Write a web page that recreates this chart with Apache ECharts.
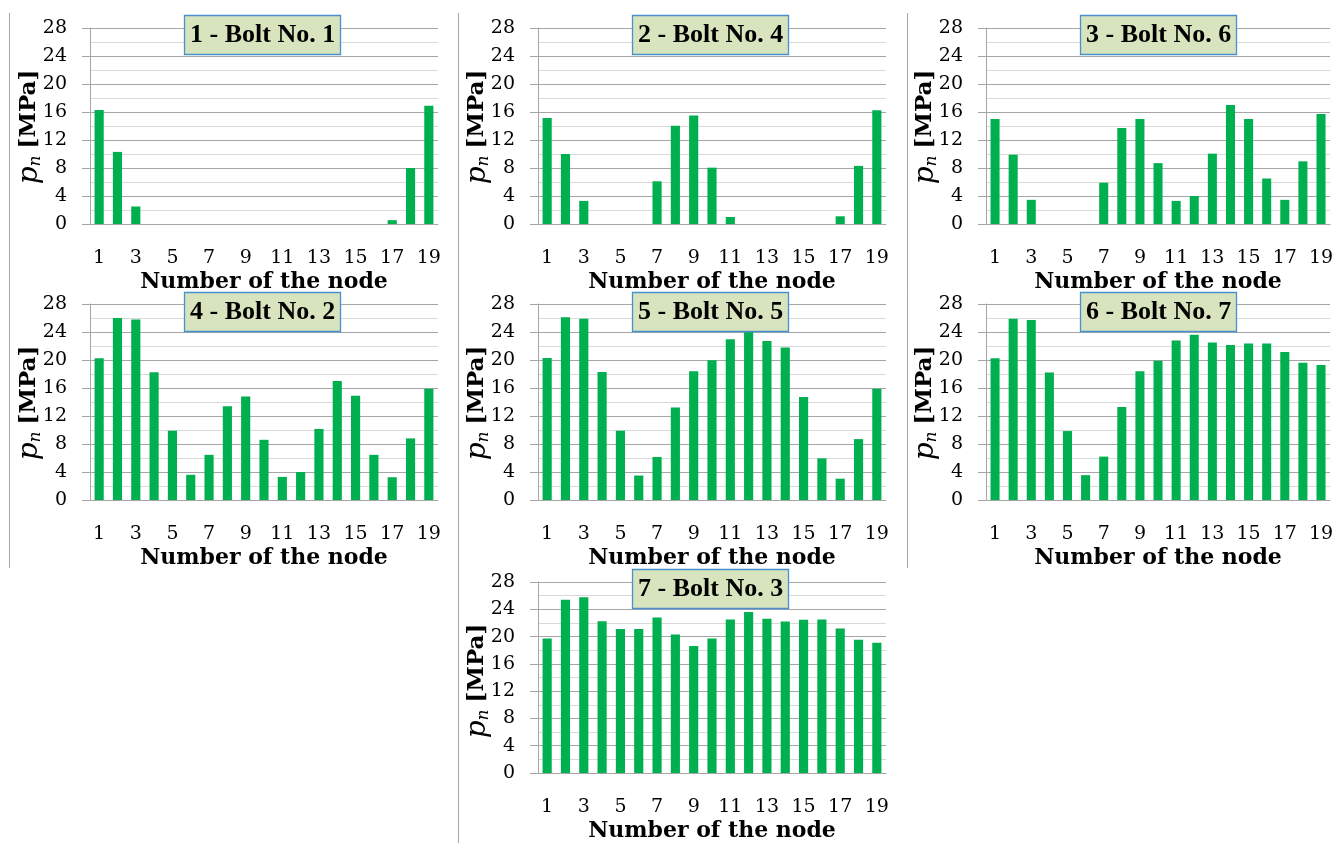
<!DOCTYPE html>
<html>
<head>
<meta charset="utf-8">
<script src="https://cdn.jsdelivr.net/npm/echarts@6/dist/echarts.min.js"></script>
<style>
html,body{margin:0;padding:0;background:#fff;}
#chart{width:1336px;height:843px;}
</style>
</head>
<body>
<div id="chart"></div>
<script>
// ---- data ----
const nodes = ['1','2','3','4','5','6','7','8','9','10','11','12','13','14','15','16','17','18','19'];
const yTicks = [0, 4, 8, 12, 16, 20, 24, 28];
const panelTitles = ['1 - Bolt No. 1', '2 - Bolt No. 4', '3 - Bolt No. 6', '4 - Bolt No. 2', '5 - Bolt No. 5', '6 - Bolt No. 7', '7 - Bolt No. 3'];
const xAxisName = 'Number of the node';
const yNameParts = ['p', 'n', '[MPa]'];
const bolt1 = [16.3, 10.3, 2.5, 0, 0, 0, 0, 0, 0, 0, 0, 0, 0, 0, 0, 0, 0.55, 8.0, 16.9];
const bolt4 = [15.15, 10.0, 3.3, 0, 0, 0, 6.1, 14.05, 15.5, 8.05, 1.0, 0, 0, 0, 0, 0, 1.1, 8.3, 16.25];
const bolt6 = [15.0, 9.9, 3.45, 0, 0, 0, 5.9, 13.7, 15.0, 8.7, 3.3, 4.0, 10.05, 17.0, 15.0, 6.5, 3.45, 8.95, 15.7];
const bolt2 = [20.25, 26.0, 25.8, 18.25, 9.9, 3.6, 6.45, 13.4, 14.8, 8.6, 3.3, 4.0, 10.15, 17.0, 14.9, 6.45, 3.25, 8.8, 15.9];
const bolt5 = [20.3, 26.1, 25.9, 18.3, 9.9, 3.5, 6.15, 13.2, 18.4, 19.95, 22.95, 24.2, 22.7, 21.8, 14.7, 5.95, 3.05, 8.7, 15.9];
const bolt7 = [20.25, 25.9, 25.7, 18.2, 9.85, 3.55, 6.2, 13.3, 18.4, 19.9, 22.8, 23.6, 22.5, 22.15, 22.35, 22.35, 21.15, 19.6, 19.3];
const bolt3 = [19.7, 25.4, 25.75, 22.25, 21.1, 21.1, 22.8, 20.3, 18.6, 19.7, 22.5, 23.6, 22.6, 22.2, 22.45, 22.5, 21.2, 19.55, 19.1];
const panelData = [bolt1, bolt4, bolt6, bolt2, bolt5, bolt7, bolt3];

// ---- layout ----
const colLeft = [90, 538, 986];
const rowTop = [28, 304, 582];
const gridW = 348, gridH = 196;
const panelPos = [[0,0],[1,0],[2,0],[0,1],[1,1],[2,1],[1,2]];
const titleTop = [15, 292, 569];

const GREEN = '#00b050';
const SERIF = "'DejaVu Serif', serif";
const TITLE_FONT = "bold 26px 'Liberation Serif'";
const P_FONT = "italic 28px 'DejaVu Serif'";
const N_FONT = "italic 17px 'DejaVu Serif'";
const U_FONT = "bold 23px 'DejaVu Serif'";
const NAME_STRETCH = 1.0;

const cv = document.createElement('canvas').getContext('2d');
function mw(font, s) { cv.font = font; return cv.measureText(s).width; }
const wP = mw(P_FONT, yNameParts[0]);
const wN = mw(N_FONT, yNameParts[1]);
const wGap = 7;
const wU = mw(U_FONT, yNameParts[2]);
const wTot = wP + wN + wGap + wU;

const grids = [], xAxes = [], yAxes = [], series = [], titles = [], graphics = [];
panelPos.forEach(([c, r], i) => {
  const left = colLeft[c], top = rowTop[r];
  grids.push({left: left, top: top, width: gridW, height: gridH});
  xAxes.push({
    type: 'category', gridIndex: i, data: nodes,
    axisLine: {lineStyle: {color: '#a6a6a6', width: 1}},
    axisTick: {show: false},
    axisLabel: {interval: 1, margin: 25, fontFamily: SERIF, fontSize: 19, color: '#000'},
    name: xAxisName, nameLocation: 'middle', nameGap: 47,
    nameTextStyle: {fontFamily: SERIF, fontWeight: 'bold', fontSize: 22, color: '#000'}
  });
  yAxes.push({
    type: 'value', gridIndex: i, min: yTicks[0], max: yTicks[yTicks.length-1], interval: yTicks[1]-yTicks[0],
    axisLine: {show: true, lineStyle: {color: '#a6a6a6'}},
    axisTick: {show: true, length: 8, lineStyle: {color: '#a6a6a6'}},
    axisLabel: {margin: 23, fontFamily: SERIF, fontSize: 19, color: '#000'},
    splitLine: {show: true, lineStyle: {color: '#a6a6a6', width: 1}},
    minorTick: {show: false, splitNumber: 2},
    minorSplitLine: {show: true, lineStyle: {color: '#d9d9d9', width: 1}}
  });
  series.push({
    type: 'bar', xAxisIndex: i, yAxisIndex: i, data: panelData[i],
    barWidth: '50%', itemStyle: {color: GREEN}, silent: true
  });
  cv.font = TITLE_FONT;
  const tw = cv.measureText(panelTitles[i]).width;
  const padH = 6, padV = 7;
  titles.push({
    text: panelTitles[i],
    left: Math.round(left + gridW/2 - tw/2 - padH - 1),
    top: titleTop[r],
    padding: [padV, padH, padV, padH],
    backgroundColor: '#d7e4bd',
    borderColor: '#4a8fcf', borderWidth: 1.3,
    textStyle: {fontFamily: "'Liberation Serif'", fontWeight: 'bold', fontSize: 26, color: '#000', lineHeight: 26}
  });
  // rotated y-axis name: p (italic) + subscript n (italic) + [MPa] (bold)
  const x0 = -wTot / 2;
  graphics.push({
    type: 'group', x: left - 60, y: top + gridH / 2 + 1, rotation: Math.PI / 2,
    scaleX: NAME_STRETCH, scaleY: 1, silent: true,
    children: [
      {type: 'text', x: x0, y: 0, style: {text: yNameParts[0], font: P_FONT, fill: '#000', align: 'left', verticalAlign: 'middle'}},
      {type: 'text', x: x0 + wP, y: 6, style: {text: yNameParts[1], font: N_FONT, fill: '#000', align: 'left', verticalAlign: 'middle'}},
      {type: 'text', x: x0 + wP + wN + wGap, y: -1, style: {text: yNameParts[2], font: U_FONT, fill: '#000', align: 'left', verticalAlign: 'middle'}}
    ]
  });
});

[
  {x: 9, y1: 13, y2: 568},
  {x: 458, y1: 13, y2: 843},
  {x: 907, y1: 13, y2: 568}
].forEach(s => graphics.push({type: 'line', shape: {x1: s.x + 0.5, y1: s.y1, x2: s.x + 0.5, y2: s.y2}, style: {stroke: '#a6a6a6', lineWidth: 1}, silent: true}));

const chart = echarts.init(document.getElementById('chart'), null, {renderer: 'canvas'});
chart.setOption({
  animation: false,
  backgroundColor: '#fff',
  title: titles,
  grid: grids,
  xAxis: xAxes,
  yAxis: yAxes,
  series: series,
  graphic: graphics
});
</script>
</body>
</html>
